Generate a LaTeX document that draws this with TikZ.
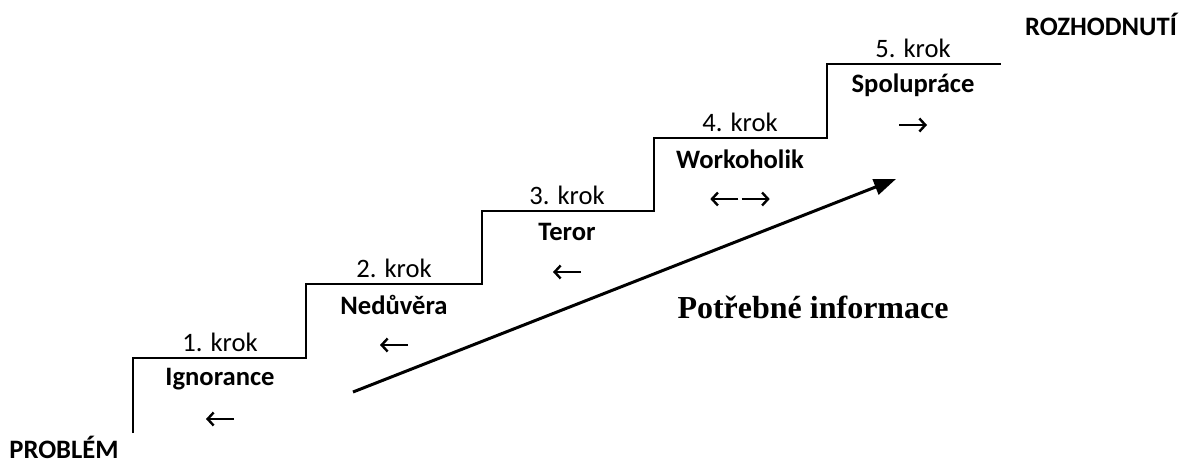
\documentclass[tikz,border=0pt]{standalone}
\usepackage{fontspec}
\setmainfont{Carlito}
\newfontfamily\infofont{Liberation Serif}
\usetikzlibrary{arrows.meta}

\tikzset{
  krok/.style={font=\fontsize{13.3}{15}\selectfont, inner sep=0pt},
  jmeno/.style={font=\fontsize{13.3}{15}\selectfont\bfseries, inner sep=0pt},
  smer/.style={inner sep=0pt},
  konec/.style={font=\fontsize{13.3}{15}\selectfont\bfseries, inner sep=0pt, anchor=base},
  sipka/.style={line width=1.2pt, arrows={-Straight Barb[length=3pt,width=6.5pt]}}
}
\newcommand{\sipkaL}{\tikz\draw[sipka] (14pt,0) -- (0,0);}
\newcommand{\sipkaR}{\tikz\draw[sipka] (0,0) -- (14pt,0);}

\begin{document}
\begin{tikzpicture}[x=0.5pt,y=0.5pt]
\useasboundingbox (0,0) rectangle (1188,463);
% schody
\draw [line width=1pt] (133,30) -- (133,105) -- (306,105) -- (306,179) -- (482,179) -- (482,252)
  -- (654,252) -- (654,325) -- (827,325) -- (827,399) -- (1001,399);
\foreach \x/\y/\n/\name/\arr in {220/105/1/Ignorance/{\sipkaL},394/179/2/{Nedůvěra}/{\sipkaL},
  567/252/3/Teror/{\sipkaL},740/325/4/Workoholik/{\sipkaL\hspace{0.5pt}\sipkaR},
  913/399/5/{Spolupráce}/{\sipkaR}}{
  \node (krok\n) at (\x,\y) [krok, yshift=8pt] {\n. krok};
  \node (jmeno\n) at (\x,\y) [jmeno, yshift=-10.5pt] {\name};
  \node (smer\n) at (\x,\y) [smer, yshift=-30.5pt] {\arr};
 }
\node (problem) at (64,5) [konec] {PROBLÉM};
\node (rozhodnuti) at (1101,428) [konec] {ROZHODNUTÍ};
% informace
\coordinate (infoA) at (353,71);
\coordinate (infoB) at (896,284);
\draw [line width=1.5pt,-{Triangle[length=11pt,width=8pt]}] (infoA) -- (infoB);
\node (info) at (813,156) [font=\fontsize{16}{19}\selectfont\infofont\bfseries, inner sep=0pt] {Potřebné informace};
\end{tikzpicture}
\end{document}
